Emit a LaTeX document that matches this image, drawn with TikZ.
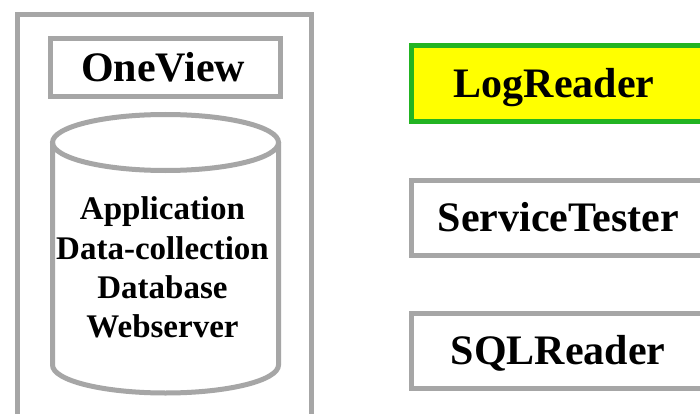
\documentclass[tikz,border=0pt]{standalone}
\usepackage{fontspec}
\setmainfont{Liberation Serif}
\definecolor{boxgray}{RGB}{166,166,166}
\definecolor{boxgreen}{RGB}{34,180,34}
\definecolor{boxyellow}{RGB}{255,255,0}
\tikzset{
  graybox/.style={draw=boxgray, line width=5pt},
  label41/.style={font=\bfseries\fontsize{42}{50}\selectfont, text height=27.5pt, text depth=0pt, inner sep=0pt},
  rbox/.style={graybox, label41, minimum width=293.5pt, minimum height=75.5pt},
}
\begin{document}
\begin{tikzpicture}[x=1pt,y=1pt]
\useasboundingbox (0,0) rectangle (700,-414);
\fill[white] (0,0) rectangle (700,-414);
% outer frame
\node[graybox, minimum width=294pt, minimum height=405.5pt, inner sep=0pt] (outer) at (164,-217.25) {};
% OneView
\node[graybox, label41, minimum width=229.5pt, minimum height=58.5pt] (oneview) at (165.25,-67.5) {\hspace*{-4pt}OneView};
% cylinder
\draw[graybox] (52.5,-142.5) -- (52.5,-365) arc[start angle=180, end angle=360, x radius=113pt, y radius=28pt] -- (278.5,-142.5);
\draw[graybox] (165.5,-142.5) ellipse [x radius=113pt, y radius=28pt];
\node[font=\bfseries\fontsize{33}{39.3}\selectfont, align=center, inner sep=0pt] (db) at (162.5,-267.5)
  {Application\\Data-collection\\Database\\Webserver};
% right boxes
\node[rbox, draw=boxgreen, fill=boxyellow, minimum height=75.5pt] (logreader) at (558.25,-83.75) {\hspace*{-8pt}LogReader};
\node[rbox] (servicetester) at (558.25,-217.75) {ServiceTester};
\node[rbox, minimum height=75pt] (sqlreader) at (558.25,-350.5) {SQLReader};
\end{tikzpicture}
\end{document}
